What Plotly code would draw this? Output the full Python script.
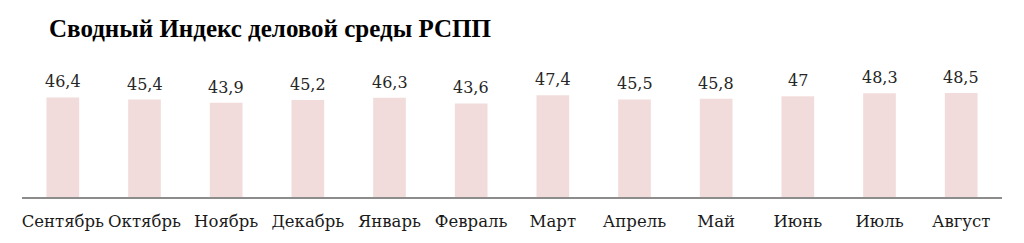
import plotly.graph_objects as go

categories = ["Сентябрь", "Октябрь", "Ноябрь", "Декабрь", "Январь", "Февраль",
              "Март", "Апрель", "Май", "Июнь", "Июль", "Август"]
values = [46.4, 45.4, 43.9, 45.2, 46.3, 43.6, 47.4, 45.5, 45.8, 47.0, 48.3, 48.5]
labels = [f"{v:g}".replace(".", ",") for v in values]
title = "Сводный Индекс деловой среды РСПП"

SERIF = "DejaVu Serif"

fig = go.Figure(go.Bar(
    x=categories, y=values,
    marker=dict(color="#f2dcdb", line=dict(width=0)),
    cliponaxis=False, width=0.4, hoverinfo="x+y",
))
for c, v, t in zip(categories, values, labels):
    fig.add_annotation(x=c, y=v, text=t, showarrow=False, yanchor="bottom",
                       yshift=4, font=dict(family=SERIF, size=16, color="#262626"))

fig.update_layout(
    width=1024, height=243,
    margin=dict(l=22, r=22, t=79, b=46),
    paper_bgcolor="white", plot_bgcolor="white",
    showlegend=False,
    title=dict(text=f"<b>{title}</b>", x=49/1024, xanchor="left", y=1-28/243, yanchor="middle",
               font=dict(family="Liberation Serif", size=25, color="#000000")),
    xaxis=dict(showline=True, linecolor="#8c8c8c", linewidth=1.5, ticks="",
               tickfont=dict(family=SERIF, size=16.5, color="#1a1a1a"),
               showgrid=False, ticklabelstandoff=8, tickangle=0, automargin=False),
    yaxis=dict(range=[0, 55], visible=False, showgrid=False, automargin=False),
)
fig.write_html("out.html")
